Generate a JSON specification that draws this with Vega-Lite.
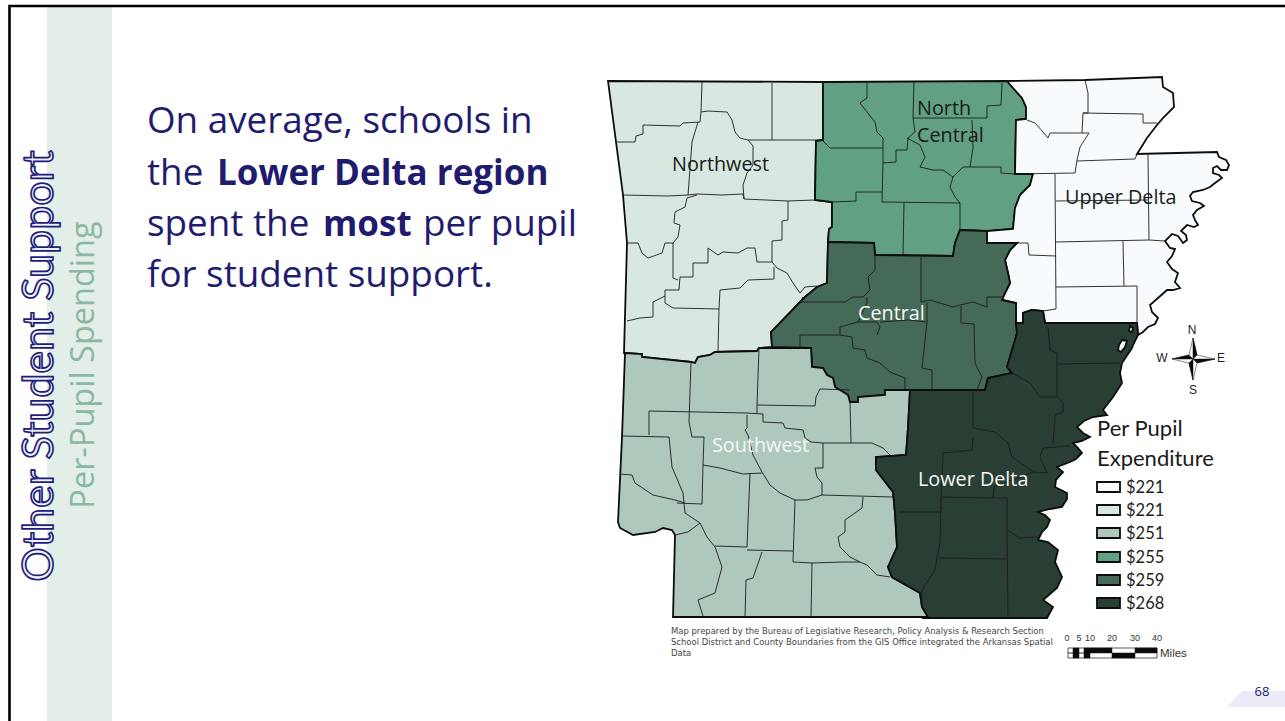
{"$schema":"https://vega.github.io/schema/vega-lite/v6.json","width":1285,"height":721,"padding":0,"autosize":{"type":"fit","contains":"padding"},"background":"#ffffff","config":{"view":{"stroke":null}},"projection":{"type":"identity","scale":1,"translate":[0,0]},"resolve":{"scale":{"color":"independent"}},
"layer":[
{"data":{"values":[{"type":"Feature","properties":{"part":"band"},"geometry":{"type":"Polygon","coordinates":[[[47,7],[112,7],[112,721],[47,721],[47,7]]]}},{"type":"Feature","properties":{"part":"tab"},"geometry":{"type":"Polygon","coordinates":[[[1227,707],[1242,691],[1285,691],[1285,707],[1227,707]]]}}]},"mark":{"type":"geoshape"},"encoding":{"color":{"field":"properties.part","type":"nominal","scale":{"domain":["band","tab"],"range":["#e3eee8","#ebecf7"]},"legend":null}}},
{"data":{"values":[{"type":"Feature","properties":{},"geometry":{"type":"LineString","coordinates":[[9.5,721],[9.5,6],[1285,6]]}}]},"mark":{"type":"geoshape","filled":false,"stroke":"#000000","strokeWidth":2.6},"encoding":{}},
{"data":{"values":[
{"type":"Feature","properties":{"region":"Northwest"},"geometry":{"type":"Polygon","coordinates":[[[608,81],[823,82],[823,140],[816,141],[815,200],[832,202],[832,227],[829,229],[828,242],[827,283],[817,287],[805,297],[771,332],[772,347],[759,348],[757,351],[715,352],[710,355],[698,357],[695,363],[691,362],[642,357],[642,354],[625,353],[624,353],[627,243],[623,195],[608,81]]]}},
{"type":"Feature","properties":{"region":"North Central"},"geometry":{"type":"Polygon","coordinates":[[[823,82],[1007,81],[1013,88],[1022,98],[1026,107],[1026,119],[1016,120],[1015,174],[1033,174],[1030,185],[1020,195],[1015,208],[1013,229],[987,231],[960,230],[955,243],[953,256],[875,255],[874,243],[828,242],[829,229],[832,227],[832,202],[815,200],[816,141],[823,140],[823,82]]]}},
{"type":"Feature","properties":{"region":"Upper Delta"},"geometry":{"type":"Polygon","coordinates":[[[1007,81],[1085,80],[1162,77],[1163,87],[1173,93],[1174,107],[1163,118],[1157,125],[1147,138],[1137,154],[1217,152],[1219,157],[1226,160],[1229,165],[1227,170],[1221,170],[1217,166],[1213,168],[1213,173],[1219,175],[1222,178],[1215,183],[1210,187],[1203,190],[1193,192],[1190,196],[1192,201],[1200,203],[1204,206],[1197,210],[1193,215],[1195,220],[1198,225],[1194,227],[1187,225],[1181,231],[1186,235],[1187,240],[1183,243],[1178,236],[1172,234],[1165,241],[1170,248],[1175,249],[1172,256],[1167,262],[1172,269],[1178,273],[1175,282],[1180,288],[1173,290],[1167,290],[1158,298],[1150,305],[1152,312],[1158,318],[1155,324],[1148,327],[1143,332],[1138,335],[1137,323],[1045,323],[1043,311],[1032,310],[1023,313],[1023,323],[1016,323],[1016,303],[1002,300],[1005,293],[1010,283],[1008,273],[1005,260],[1010,250],[1017,243],[987,243],[987,231],[1013,229],[1015,208],[1020,195],[1030,185],[1033,174],[1015,174],[1016,120],[1026,119],[1026,107],[1022,98],[1013,88],[1007,81]]]}},
{"type":"Feature","properties":{"region":"Central"},"geometry":{"type":"Polygon","coordinates":[[[828,242],[874,243],[875,255],[953,256],[955,243],[960,230],[987,231],[987,243],[1017,243],[1010,250],[1005,260],[1008,273],[1010,283],[1005,293],[1002,300],[1016,303],[1016,323],[1017,333],[1015,340],[1007,367],[1012,373],[988,378],[985,390],[910,390],[885,390],[885,395],[858,397],[858,402],[850,402],[848,395],[835,387],[833,378],[827,375],[823,368],[812,367],[811,348],[772,347],[771,332],[805,297],[817,287],[827,283],[828,242]]]}},
{"type":"Feature","properties":{"region":"Southwest"},"geometry":{"type":"Polygon","coordinates":[[[625,353],[642,354],[642,357],[691,362],[695,363],[698,357],[710,355],[715,352],[757,351],[759,348],[811,348],[812,367],[823,368],[827,375],[833,378],[835,387],[848,395],[850,402],[858,402],[858,397],[885,395],[885,390],[910,390],[908,428],[906,455],[876,457],[876,470],[893,492],[895,513],[897,547],[888,567],[892,577],[920,593],[922,607],[928,617],[673,617],[675,535],[672,530],[663,528],[655,532],[633,535],[620,528],[618,522],[622,437],[625,353]]]}},
{"type":"Feature","properties":{"region":"Lower Delta"},"geometry":{"type":"Polygon","coordinates":[[[1016,323],[1023,323],[1023,313],[1032,310],[1043,311],[1045,323],[1137,323],[1138,335],[1133,345],[1132,348],[1122,363],[1120,373],[1122,383],[1113,397],[1103,410],[1107,415],[1093,417],[1084,421],[1077,427],[1083,433],[1090,437],[1082,441],[1073,443],[1078,448],[1082,453],[1076,459],[1070,462],[1057,467],[1063,472],[1056,480],[1055,487],[1067,493],[1067,499],[1062,507],[1050,509],[1038,512],[1045,515],[1050,520],[1047,527],[1042,532],[1038,540],[1048,542],[1058,550],[1055,562],[1062,577],[1057,588],[1050,594],[1043,600],[1053,607],[1047,618],[922,618],[928,617],[922,607],[920,593],[892,577],[888,567],[897,547],[895,513],[893,492],[876,470],[876,457],[906,455],[908,428],[910,390],[985,390],[988,378],[1012,373],[1007,367],[1015,340],[1017,333],[1016,323]]]}},
{"type":"Feature","properties":{"region":"Upper Delta"},"geometry":{"type":"Polygon","coordinates":[[[1130,326],[1133,328],[1132,332],[1129,331],[1130,326]]]}},
{"type":"Feature","properties":{"region":"Upper Delta"},"geometry":{"type":"Polygon","coordinates":[[[1122,340],[1127,341],[1125,347],[1121,352],[1118,350],[1119,345],[1122,340]]]}},
{"type":"Feature","properties":{"region":"Upper Delta"},"geometry":{"type":"Polygon","coordinates":[[[1097,482],[1120,482],[1120,492],[1097,492],[1097,482]]]}},
{"type":"Feature","properties":{"region":"Northwest"},"geometry":{"type":"Polygon","coordinates":[[[1097,505],[1120,505],[1120,515],[1097,515],[1097,505]]]}},
{"type":"Feature","properties":{"region":"Southwest"},"geometry":{"type":"Polygon","coordinates":[[[1097,528],[1120,528],[1120,538],[1097,538],[1097,528]]]}},
{"type":"Feature","properties":{"region":"North Central"},"geometry":{"type":"Polygon","coordinates":[[[1097,552],[1120,552],[1120,562],[1097,562],[1097,552]]]}},
{"type":"Feature","properties":{"region":"Central"},"geometry":{"type":"Polygon","coordinates":[[[1097,575],[1120,575],[1120,585],[1097,585],[1097,575]]]}},
{"type":"Feature","properties":{"region":"Lower Delta"},"geometry":{"type":"Polygon","coordinates":[[[1097,598],[1120,598],[1120,608],[1097,608],[1097,598]]]}}
]},"mark":{"type":"geoshape","stroke":"#0d0d0d","strokeWidth":1.8},"encoding":{"color":{"field":"properties.region","type":"nominal","scale":{"domain":["Upper Delta","Northwest","Southwest","North Central","Central","Lower Delta"],"range":["#f7fbfd","#d8e8e0","#aec8bc","#62a083","#456a58","#293f33"]},"legend":null}}},
{"data":{"values":[{"type":"Feature","properties":{},"geometry":{"type":"MultiLineString","coordinates":[
[[702,82],[701,112],[708,111],[727,112],[732,120],[735,132],[740,138],[748,140],[772,140],[823,140]],
[[772,83],[772,140]],
[[617,142],[635,142],[636,136],[643,134],[643,125],[680,126],[683,123],[700,122],[701,112]],
[[698,122],[692,142],[688,195]],
[[623,195],[668,196],[688,195],[697,194],[722,195],[743,194],[744,199],[788,201],[815,200]],
[[748,140],[753,146],[753,165],[747,173],[743,185],[744,199]],
[[788,201],[788,220],[782,221],[782,240],[772,241],[772,262],[757,262],[755,248],[747,248],[738,253],[723,252],[718,255],[708,248],[708,263],[693,263],[693,277],[680,277],[679,290],[665,290],[665,303],[673,308],[719,309],[718,351]],
[[697,195],[687,198],[685,207],[675,212],[674,223],[680,225],[678,237],[673,243],[673,278],[678,280]],
[[628,243],[638,243],[642,253],[648,258],[662,253],[665,243],[674,243]],
[[772,262],[777,268],[787,273],[793,283],[800,293],[805,287],[817,286]],
[[774,267],[774,279],[748,280],[740,288],[720,290],[719,309]],
[[665,296],[653,302],[653,317],[640,318],[627,321]],
[[867,83],[867,98],[860,103],[867,112],[875,122],[877,132],[883,138],[883,148],[830,148],[823,141]],
[[914,82],[913,118],[915,132],[908,138],[907,150],[896,150],[896,162],[883,163],[883,148]],
[[883,163],[882,202],[960,203]],
[[832,202],[856,201],[856,192],[882,192]],
[[904,203],[903,255]],
[[913,118],[987,118],[987,106],[1001,105],[1002,83]],
[[972,120],[973,148],[970,167]],
[[953,177],[963,167],[1001,167],[1001,173],[1015,174]],
[[907,138],[920,145],[925,157],[920,167],[933,170],[943,170],[953,177],[950,187],[955,197],[960,203],[960,230]],
[[1085,80],[1088,93],[1088,113],[1083,113],[1082,133],[1050,133],[1048,138],[1043,132],[1035,123],[1027,120]],
[[1083,113],[1143,114],[1143,123],[1157,123]],
[[1089,133],[1082,133]],
[[1089,133],[1080,147],[1077,160],[1075,173],[1015,174]],
[[1077,161],[1135,159],[1137,154]],
[[1148,155],[1149,240],[1165,241]],
[[1055,174],[1056,309],[1043,311]],
[[1056,201],[1148,200]],
[[1056,242],[1149,240]],
[[1123,241],[1124,286]],
[[1056,287],[1137,286],[1137,323]],
[[1017,243],[1028,243],[1029,255],[1056,256]],
[[875,270],[868,277],[870,290],[863,297],[853,297],[845,302],[800,302],[803,297]],
[[875,255],[875,270]],
[[921,257],[921,302],[930,300],[953,307],[960,305],[973,302],[987,307],[987,297],[1002,297]],
[[867,297],[867,303],[858,322],[840,327],[840,335],[800,335],[800,347]],
[[857,322],[877,322],[880,327],[877,335]],
[[880,322],[908,320],[927,322],[927,303]],
[[840,335],[852,337],[853,348],[865,350],[867,358],[880,363],[890,372],[905,378],[905,389]],
[[927,322],[925,340],[922,368],[932,370],[932,390]],
[[961,306],[961,323],[974,324],[975,363],[982,377],[977,390]],
[[1048,327],[1050,350],[1057,353],[1057,397],[1063,403],[1063,412],[1055,415],[1053,445]],
[[1057,364],[1120,363]],
[[1012,373],[1030,383],[1040,397],[1057,397]],
[[973,390],[973,428],[995,432],[1008,443],[1012,457],[1033,472],[1047,473],[1040,457],[1043,448],[1070,446]],
[[973,438],[972,450],[943,453],[941,497],[940,543],[937,557],[935,570],[922,590],[922,607]],
[[900,512],[940,512]],
[[941,497],[1007,498],[1007,530],[1020,538],[1038,537]],
[[938,558],[1007,559]],
[[1007,530],[1008,617]],
[[993,497],[994,487],[1012,480],[1033,472]],
[[691,362],[689,422],[692,437],[704,437],[703,465],[702,504],[677,503]],
[[649,435],[649,411],[747,413],[763,414],[763,422],[783,423],[785,428],[803,430],[805,438],[811,442],[823,443]],
[[757,405],[757,413]],
[[759,348],[757,405],[815,406],[816,397],[820,389],[850,390]],
[[850,402],[851,443]],
[[823,443],[872,443],[883,448],[890,455]],
[[823,443],[823,468],[815,468],[817,477],[822,483],[822,495],[893,497]],
[[747,415],[747,428],[745,430],[748,435],[753,455],[762,472],[770,485],[780,493],[795,500],[807,500],[822,495]],
[[703,465],[720,468],[743,474],[762,473]],
[[750,473],[747,547],[715,546]],
[[747,550],[793,551]],
[[795,500],[793,562],[812,563],[811,617]],
[[812,563],[843,562],[860,562],[867,565],[877,575],[890,577]],
[[863,497],[862,508],[845,520],[845,532],[838,537],[840,547],[850,557],[860,562]],
[[762,552],[753,578],[746,580],[745,617]],
[[622,436],[669,437],[672,467],[683,493],[685,513],[700,523],[707,537],[715,547],[722,567],[715,593],[698,600],[703,616]],
[[620,474],[632,475],[635,483],[653,495],[675,500],[685,503]],
[[675,535],[688,532],[700,523]]
]}}]},"mark":{"type":"geoshape","filled":false,"stroke":"#1c1c1c","strokeWidth":0.9,"strokeJoin":"round"},"encoding":{}},
{"data":{"values":[
{"type":"Feature","properties":{"tone":"light"},"geometry":{"type":"Polygon","coordinates":[[[1193,338],[1197,355],[1215,359],[1197,363],[1193,380],[1189,363],[1172,359],[1189,355],[1193,338]]]}},
{"type":"Feature","properties":{"tone":"dark"},"geometry":{"type":"MultiPolygon","coordinates":[[[[1193,338],[1197,355],[1193,359],[1193,338]]],[[[1215,359],[1197,363],[1193,359],[1215,359]]],[[[1193,380],[1189,363],[1193,359],[1193,380]]],[[[1172,359],[1189,355],[1193,359],[1172,359]]]]}},
{"type":"Feature","properties":{"tone":"dark"},"geometry":{"type":"Polygon","coordinates":[[[1068,653],[1073,653],[1073,648],[1079,648],[1079,653],[1084,653],[1084,648],[1090,648],[1112,648],[1112,653],[1090,653],[1090,658],[1084,658],[1084,653],[1079,653],[1079,658],[1073,658],[1073,653],[1068,653]]]}},
{"type":"Feature","properties":{"tone":"dark"},"geometry":{"type":"Polygon","coordinates":[[[1112,653],[1135,653],[1135,658],[1112,658],[1112,653]]]}},
{"type":"Feature","properties":{"tone":"dark"},"geometry":{"type":"Polygon","coordinates":[[[1135,648],[1157,648],[1157,653],[1135,653],[1135,648]]]}}
]},"mark":{"type":"geoshape","stroke":"#111111","strokeWidth":0.5},"encoding":{"color":{"field":"properties.tone","type":"nominal","scale":{"domain":["light","dark"],"range":["#ffffff","#0a0a0a"]},"legend":null}}},
{"data":{"values":[{"type":"Feature","properties":{},"geometry":{"type":"Polygon","coordinates":[[[1068,648],[1157,648],[1157,658],[1068,658],[1068,648]]]}}]},"mark":{"type":"geoshape","filled":false,"stroke":"#111111","strokeWidth":0.7},"encoding":{}},
{"data":{"values":[{"t":"Other Student Support","lon":40,"lat":366}]},"mark":{"type":"text","font":"Lato","fontSize":43,"angle":270,"align":"center","baseline":"middle","fill":"#eef0fa","stroke":"#1f1f7a","strokeWidth":1.7},"encoding":{"text":{"field":"t"},"longitude":{"field":"lon","type":"quantitative"},"latitude":{"field":"lat","type":"quantitative"}}},
{"data":{"values":[{"t":"Per-Pupil Spending","lon":84,"lat":365}]},"mark":{"type":"text","font":"Open Sans","fontSize":32.5,"angle":270,"align":"center","baseline":"middle","color":"#8ab8a0"},"encoding":{"text":{"field":"t"},"longitude":{"field":"lon","type":"quantitative"},"latitude":{"field":"lat","type":"quantitative"}}},
{"data":{"values":[{"t":"On average, schools in","lon":147,"lat":133},{"t":"the","lon":147,"lat":185},{"t":"spent the","lon":147,"lat":236},{"t":"per pupil","lon":423,"lat":236},{"t":"for student support.","lon":147,"lat":287}]},"mark":{"type":"text","font":"Open Sans","fontSize":36.8,"align":"left","baseline":"alphabetic","color":"#1f1b6f"},"encoding":{"text":{"field":"t"},"longitude":{"field":"lon","type":"quantitative"},"latitude":{"field":"lat","type":"quantitative"}}},
{"data":{"values":[{"t":"Lower Delta region","lon":217,"lat":185},{"t":"most","lon":323,"lat":236}]},"mark":{"type":"text","font":"Open Sans","fontSize":35,"fontWeight":"bold","align":"left","baseline":"alphabetic","color":"#1f1b6f"},"encoding":{"text":{"field":"t"},"longitude":{"field":"lon","type":"quantitative"},"latitude":{"field":"lat","type":"quantitative"}}},
{"data":{"values":[{"t":"Northwest","lon":672,"lat":171},{"t":"North","lon":917,"lat":115},{"t":"Central","lon":917,"lat":142},{"t":"Upper Delta","lon":1065,"lat":204}]},"mark":{"type":"text","font":"Open Sans","fontSize":19.8,"align":"left","baseline":"alphabetic","color":"#1a1a1a"},"encoding":{"text":{"field":"t"},"longitude":{"field":"lon","type":"quantitative"},"latitude":{"field":"lat","type":"quantitative"}}},
{"data":{"values":[{"t":"Central","lon":858,"lat":320},{"t":"Southwest","lon":712,"lat":452},{"t":"Lower Delta","lon":918,"lat":486}]},"mark":{"type":"text","font":"Open Sans","fontSize":19.8,"align":"left","baseline":"alphabetic","color":"#f4f8f6"},"encoding":{"text":{"field":"t"},"longitude":{"field":"lon","type":"quantitative"},"latitude":{"field":"lat","type":"quantitative"}}},
{"data":{"values":[{"t":"Per Pupil","lon":1097,"lat":436},{"t":"Expenditure","lon":1097,"lat":466}]},"mark":{"type":"text","font":"Lato","fontSize":22,"align":"left","baseline":"alphabetic","color":"#1a1a1a"},"encoding":{"text":{"field":"t"},"longitude":{"field":"lon","type":"quantitative"},"latitude":{"field":"lat","type":"quantitative"}}},
{"data":{"values":[{"t":"$221","lon":1126,"lat":493},{"t":"$221","lon":1126,"lat":516},{"t":"$251","lon":1126,"lat":539},{"t":"$255","lon":1126,"lat":563},{"t":"$259","lon":1126,"lat":586},{"t":"$268","lon":1126,"lat":609}]},"mark":{"type":"text","font":"Lato","fontSize":16.5,"align":"left","baseline":"alphabetic","color":"#222222"},"encoding":{"text":{"field":"t"},"longitude":{"field":"lon","type":"quantitative"},"latitude":{"field":"lat","type":"quantitative"}}},
{"data":{"values":[{"t":"N","lon":1192,"lat":330},{"t":"W","lon":1162,"lat":358},{"t":"E","lon":1221,"lat":358},{"t":"S","lon":1193,"lat":390}]},"mark":{"type":"text","font":"Liberation Sans","fontSize":12,"align":"center","baseline":"middle","color":"#222222"},"encoding":{"text":{"field":"t"},"longitude":{"field":"lon","type":"quantitative"},"latitude":{"field":"lat","type":"quantitative"}}},
{"data":{"values":[{"t":"0","lon":1067,"lat":638},{"t":"5","lon":1079,"lat":638},{"t":"10","lon":1090,"lat":638},{"t":"20","lon":1112,"lat":638},{"t":"30","lon":1135,"lat":638},{"t":"40","lon":1157,"lat":638}]},"mark":{"type":"text","font":"Liberation Sans","fontSize":9,"align":"center","baseline":"middle","color":"#333333"},"encoding":{"text":{"field":"t"},"longitude":{"field":"lon","type":"quantitative"},"latitude":{"field":"lat","type":"quantitative"}}},
{"data":{"values":[{"t":"Miles","lon":1160,"lat":654}]},"mark":{"type":"text","font":"Liberation Sans","fontSize":11.5,"align":"left","baseline":"middle","color":"#333333"},"encoding":{"text":{"field":"t"},"longitude":{"field":"lon","type":"quantitative"},"latitude":{"field":"lat","type":"quantitative"}}},
{"data":{"values":[{"t":"Map prepared by the Bureau of Legislative Research, Policy Analysis & Research Section","lon":671,"lat":634},{"t":"School District and County Boundaries from the GIS Office integrated the Arkansas Spatial","lon":671,"lat":645},{"t":"Data","lon":671,"lat":656}]},"mark":{"type":"text","font":"DejaVu Sans","fontSize":8.45,"align":"left","baseline":"alphabetic","color":"#444444"},"encoding":{"text":{"field":"t"},"longitude":{"field":"lon","type":"quantitative"},"latitude":{"field":"lat","type":"quantitative"}}},
{"data":{"values":[{"t":"68","lon":1262,"lat":692}]},"mark":{"type":"text","font":"Open Sans","fontSize":13,"align":"center","baseline":"middle","color":"#1f1b6f"},"encoding":{"text":{"field":"t"},"longitude":{"field":"lon","type":"quantitative"},"latitude":{"field":"lat","type":"quantitative"}}}
]}
